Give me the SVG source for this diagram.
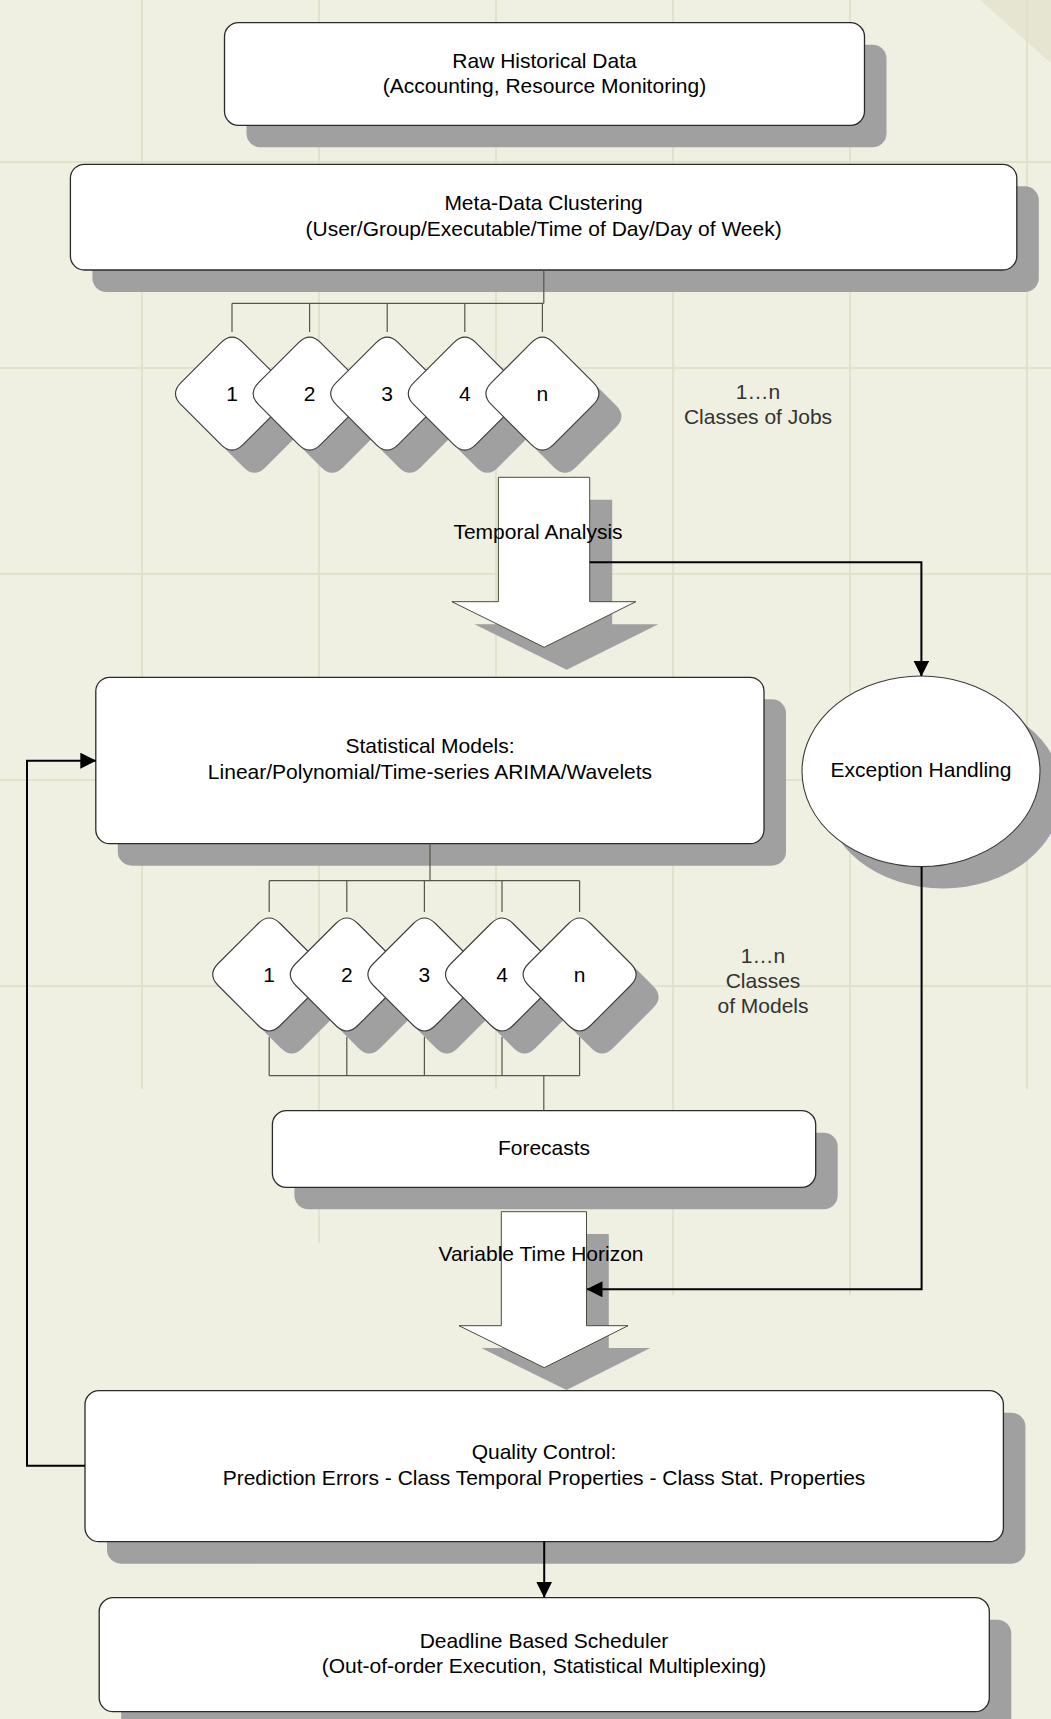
<svg xmlns="http://www.w3.org/2000/svg" width="1051" height="1719" viewBox="0 0 1051 1719">
<defs>
<style>
.t{font-family:"Liberation Sans",Arial,sans-serif;font-size:21px;fill:#000;text-anchor:middle}
.lbl{fill:#333}
.box{fill:#fff;stroke:#2a2a2a;stroke-width:1.3}
.sh{fill:#a0a0a0}
.blk{fill:#fff;stroke:#4a4a3a;stroke-width:1}
.dia{fill:#fff;stroke:#3a3a3a;stroke-width:1.1}
.grid{stroke:#e2e2cc;stroke-width:2;fill:none}
.con{fill:none;stroke:#000;stroke-width:2}
.thin{fill:none;stroke:#55554a;stroke-width:1.2}
</style>
<path id="dm" d="M 11,-51 L 51,-11 Q 62,0 51,11 L 11,51 Q 0,62 -11,51 L -51,11 Q -62,0 -51,-11 L -11,-51 Q 0,-62 11,-51 Z"/>
<marker id="ah" markerWidth="16" markerHeight="16" viewBox="0 0 16 16" refX="15.5" refY="8" orient="auto" markerUnits="userSpaceOnUse"><path d="M0,0 L16,8 L0,16 Z" fill="#000"/></marker>
</defs>

<g id="background">
<rect x="0" y="0" width="1051" height="1719" fill="#efefe2"/>
<polygon points="980,0 1051,0 1051,63" fill="#e5e5d1"/>
<g class="grid">
<path d="M142,0 V1089 M319,0 V1243 M496,0 V1089 M673,0 V1295 M850,0 V1295 M1027,0 V1089"/>
<path d="M0,162 H1051 M0,368 H1051 M0,574 H1051 M0,780 H1051 M0,986 H1051"/>
</g>
</g>

<g id="node-raw">
<rect class="sh" x="246.5" y="44.7" width="640" height="102.6" rx="14"/>
<rect class="box" x="224.5" y="22.7" width="640" height="102.6" rx="14"/>
<text class="t" x="544.5" y="68">Raw Historical Data</text>
<text class="t" x="544.5" y="93">(Accounting, Resource Monitoring)</text>
</g>

<g id="node-meta">
<rect class="sh" x="92.4" y="186.3" width="946.4" height="105.7" rx="14"/>
<rect class="box" x="70.4" y="164.3" width="946.4" height="105.7" rx="14"/>
<text class="t" x="543.6" y="210">Meta-Data Clustering</text>
<text class="t" x="543.6" y="236">(User/Group/Executable/Time of Day/Day of Week)</text>
</g>

<g id="job-classes">
<g class="sh">
<use href="#dm" x="254.5" y="416.2"/>
<use href="#dm" x="332.1" y="416.2"/>
<use href="#dm" x="409.7" y="416.2"/>
<use href="#dm" x="487.3" y="416.2"/>
<use href="#dm" x="564.9" y="416.2"/>
</g>
<g id="job-1"><use class="dia" href="#dm" x="232" y="393.7"/><text class="t" x="232" y="401">1</text></g>
<g id="job-2"><use class="dia" href="#dm" x="309.6" y="393.7"/><text class="t" x="309.6" y="401">2</text></g>
<g id="job-3"><use class="dia" href="#dm" x="387.2" y="393.7"/><text class="t" x="387.2" y="401">3</text></g>
<g id="job-4"><use class="dia" href="#dm" x="464.8" y="393.7"/><text class="t" x="464.8" y="401">4</text></g>
<g id="job-n"><use class="dia" href="#dm" x="542.4" y="393.7"/><text class="t" x="542.4" y="401">n</text></g>
</g>

<g id="label-jobs">
<text class="t lbl" x="758" y="399">1…n</text>
<text class="t lbl" x="758" y="424">Classes of Jobs</text>
</g>

<g id="arrow-temporal">
<polygon class="sh" transform="translate(22.5,22.5)" points="498.4,477.3 589.7,477.3 589.7,601.7 635.8,601.7 544.2,647.3 451.9,601.7 498.4,601.7"/>
<polygon class="blk" points="498.4,477.3 589.7,477.3 589.7,601.7 635.8,601.7 544.2,647.3 451.9,601.7 498.4,601.7"/>
<text class="t" x="538" y="539">Temporal Analysis</text>
</g>

<g id="node-stat">
<rect class="sh" x="117.8" y="699.3" width="668.2" height="166.4" rx="14"/>
<rect class="box" x="95.8" y="677.3" width="668.2" height="166.4" rx="14"/>
<text class="t" x="430" y="753">Statistical Models:</text>
<text class="t" x="430" y="779">Linear/Polynomial/Time-series ARIMA/Wavelets</text>
</g>

<g id="node-exception">
<ellipse class="sh" cx="943" cy="793.3" rx="119" ry="95.3"/>
<ellipse class="dia" cx="921" cy="771.3" rx="119" ry="95.3"/>
<text class="t" x="921" y="777">Exception Handling</text>
</g>

<g id="model-classes">
<g class="sh">
<use href="#dm" x="291.7" y="997"/>
<use href="#dm" x="369.3" y="997"/>
<use href="#dm" x="446.9" y="997"/>
<use href="#dm" x="524.5" y="997"/>
<use href="#dm" x="602.1" y="997"/>
</g>
<g id="model-1"><use class="dia" href="#dm" x="269.2" y="974.5"/><text class="t" x="269.2" y="982">1</text></g>
<g id="model-2"><use class="dia" href="#dm" x="346.8" y="974.5"/><text class="t" x="346.8" y="982">2</text></g>
<g id="model-3"><use class="dia" href="#dm" x="424.4" y="974.5"/><text class="t" x="424.4" y="982">3</text></g>
<g id="model-4"><use class="dia" href="#dm" x="502" y="974.5"/><text class="t" x="502" y="982">4</text></g>
<g id="model-n"><use class="dia" href="#dm" x="579.6" y="974.5"/><text class="t" x="579.6" y="982">n</text></g>
</g>

<g id="label-models">
<text class="t lbl" x="763" y="963">1…n</text>
<text class="t lbl" x="763" y="988">Classes</text>
<text class="t lbl" x="763" y="1013">of Models</text>
</g>

<g id="node-forecasts">
<rect class="sh" x="294.4" y="1132.7" width="543.3" height="76.6" rx="14"/>
<rect class="box" x="272.4" y="1110.7" width="543.3" height="76.6" rx="14"/>
<text class="t" x="544" y="1155">Forecasts</text>
</g>

<g id="arrow-horizon">
<polygon class="sh" transform="translate(22.3,22.3)" points="501.3,1211.7 586.5,1211.7 586.5,1325.7 628,1325.7 544.2,1367.7 459,1325.7 501.3,1325.7"/>
<polygon class="blk" points="501.3,1211.7 586.5,1211.7 586.5,1325.7 628,1325.7 544.2,1367.7 459,1325.7 501.3,1325.7"/>
<text class="t" x="541" y="1261">Variable Time Horizon</text>
</g>

<g id="node-quality">
<rect class="sh" x="107" y="1412.7" width="918.4" height="151" rx="14"/>
<rect class="box" x="85" y="1390.7" width="918.4" height="151" rx="14"/>
<text class="t" x="544" y="1459">Quality Control:</text>
<text class="t" x="544" y="1485">Prediction Errors - Class Temporal Properties - Class Stat. Properties</text>
</g>

<g id="node-scheduler">
<rect class="sh" x="121.2" y="1619.7" width="890.1" height="114" rx="14"/>
<rect class="box" x="99.2" y="1597.7" width="890.1" height="114" rx="14"/>
<text class="t" x="544" y="1648">Deadline Based Scheduler</text>
<text class="t" x="544" y="1673">(Out-of-order Execution, Statistical Multiplexing)</text>
</g>

<g id="connectors">
<path class="thin" d="M543.8,270 V303.3 M232,303.3 H543.8 M232,303.3 V332 M309.6,303.3 V332 M387.2,303.3 V332 M464.8,303.3 V332 M542.4,303.3 V332"/>
<path class="thin" d="M430,843.7 V880.7 M269.2,880.7 H579.6 M269.2,880.7 V912 M346.8,880.7 V912 M424.4,880.7 V912 M502,880.7 V912 M579.6,880.7 V912"/>
<path class="thin" d="M269.2,1037 V1075.7 M346.8,1037 V1075.7 M424.4,1037 V1075.7 M502,1037 V1075.7 M579.6,1037 V1075.7 M269.2,1075.7 H579.6 M543.8,1075.7 V1110.7"/>
<path class="con" d="M589.7,562.3 H921.4 V676" marker-end="url(#ah)"/>
<path class="con" d="M921.6,866.7 V1289.3 H587" marker-end="url(#ah)"/>
<path class="con" d="M85,1465.7 H27 V760.7 H95.8" marker-end="url(#ah)"/>
<path class="con" d="M544.2,1541.7 V1597.2" marker-end="url(#ah)"/>
</g>
</svg>
